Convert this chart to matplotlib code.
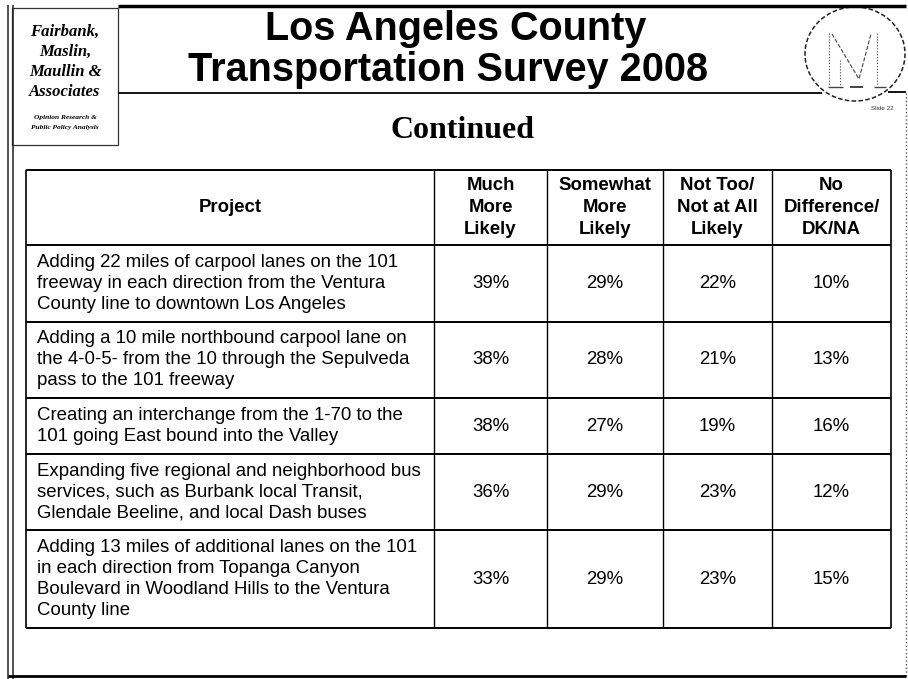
import matplotlib
matplotlib.use("Agg")
import matplotlib.pyplot as plt
from matplotlib.patches import Ellipse, Rectangle

# table content
projects = [
    "Adding 22 miles of carpool lanes on the 101\nfreeway in each direction from the Ventura\nCounty line to downtown Los Angeles",
    "Adding a 10 mile northbound carpool lane on\nthe 4-0-5- from the 10 through the Sepulveda\npass to the 101 freeway",
    "Creating an interchange from the 1-70 to the\n101 going East bound into the Valley",
    "Expanding five regional and neighborhood bus\nservices, such as Burbank local Transit,\nGlendale Beeline, and local Dash buses",
    "Adding 13 miles of additional lanes on the 101\nin each direction from Topanga Canyon\nBoulevard in Woodland Hills to the Ventura\nCounty line",
]
col_headers = ["Project", "Much\nMore\nLikely", "Somewhat\nMore\nLikely",
               "Not Too/\nNot at All\nLikely", "No\nDifference/\nDK/NA"]
much_more = [39, 38, 38, 36, 33]
somewhat_more = [29, 28, 27, 29, 29]
not_too = [22, 21, 19, 23, 23]
no_diff = [10, 13, 16, 12, 15]

W, H = 908, 679
fig = plt.figure(figsize=(W / 100, H / 100), dpi=100)
ax = fig.add_axes([0, 0, 1, 1])
ax.set_xlim(0, W)
ax.set_ylim(H, 0)
ax.axis("off")

sans = "Liberation Sans"
serif = "Liberation Serif"

# slide frame
ax.vlines([8, 13], 5, H, color="#222", lw=1.1)
ax.hlines(6, 118, 906, color="black", lw=2.5)
ax.hlines(93, 118, 822, color="black", lw=1.3)
ax.hlines(92, 888, 906, color="black", lw=1.3)
ax.vlines(906, 93, 676, color="#555", lw=1, linestyles=":")
ax.hlines(676, 8, 906, color="black", lw=2)

# logo box, top left
ax.add_patch(Rectangle((12, 8), 106, 137, fill=False, ec="#333", lw=0.9))
for txt, y in zip(["Fairbank,", "Maslin,", "Maullin &", "Associates"], [32, 52, 72, 92]):
    ax.text(65, y, txt, fontsize=12, family=serif, weight="bold", style="italic",
            ha="center", va="center")
ax.text(65, 118, "Opinion Research &", fontsize=5.3, family=serif, weight="bold",
        style="italic", ha="center", va="center")
ax.text(65, 128, "Public Policy Analysis", fontsize=5.3, family=serif, weight="bold",
        style="italic", ha="center", va="center")

# metro logo, top right
ax.add_patch(Ellipse((855, 54), 100, 94, fill=False, ec="#222", lw=1.1, ls=(0, (3, 1.5))))
ax.plot([829, 829], [33, 86], color="#444", lw=0.8, ls=":")
ax.plot([877, 877], [33, 84], color="#444", lw=0.8, ls=":")
ax.plot([832, 859, 871], [34, 79, 34], color="#444", lw=0.8, ls="--")
ax.plot([840, 840], [60, 86], color="#444", lw=0.8, ls=":")
ax.hlines(87, 828, 843, color="#444", lw=1)
ax.hlines(87, 850, 863, color="#444", lw=1.4)
ax.hlines(87, 874, 886, color="#444", lw=1)
ax.text(882, 108, "Slide 22", fontsize=4.5, family=sans, color="#333",
        ha="center", va="center")

# titles
ax.text(456, 40, "Los Angeles County", fontsize=28.5, family=sans, weight="bold",
        ha="center", va="baseline")
ax.text(448, 81, "Transportation Survey 2008", fontsize=28.5, family=sans, weight="bold",
        ha="center", va="baseline")
ax.text(463, 138, "Continued", fontsize=23, family=serif, weight="bold",
        ha="center", va="baseline")

# table geometry
col_x = [26, 434, 547, 663, 772, 891]
top, head_bot = 170, 245
lh = 21
pad = 13.6
row_edges = [head_bot]
for p in projects:
    row_edges.append(row_edges[-1] + lh * len(p.split("\n")) + pad)

ax.hlines([top, row_edges[-1]], col_x[0], col_x[-1], color="black", lw=1.4)
ax.hlines(row_edges[:-1], col_x[0], col_x[-1], color="black", lw=1.4)
ax.vlines([col_x[0], col_x[-1]], top, row_edges[-1], color="black", lw=1.2)
ax.vlines(col_x[1:-1], top, row_edges[-1], color="black", lw=1.0)

fs = 13.4
# header
hc = (top + head_bot) / 2
for i, h in enumerate(col_headers):
    cx = (col_x[i] + col_x[i + 1]) / 2
    lines = h.split("\n")
    for k, ln in enumerate(lines):
        y = hc + (k - (len(lines) - 1) / 2) * 22
        ax.text(cx, y, ln, fontsize=fs, family=sans, weight="bold",
                ha="center", va="center")

# body
cols = [much_more, somewhat_more, not_too, no_diff]
for r, p in enumerate(projects):
    rc = (row_edges[r] + row_edges[r + 1]) / 2
    lines = p.split("\n")
    for k, ln in enumerate(lines):
        y = rc + (k - (len(lines) - 1) / 2) * lh
        ax.text(37, y, ln, fontsize=fs, family=sans, ha="left", va="center")
    for j, vals in enumerate(cols):
        cx = (col_x[j + 1] + col_x[j + 2]) / 2
        ax.text(cx, rc, f"{vals[r]}%", fontsize=fs, family=sans,
                ha="center", va="center")

fig.savefig("out.png", dpi=100)
